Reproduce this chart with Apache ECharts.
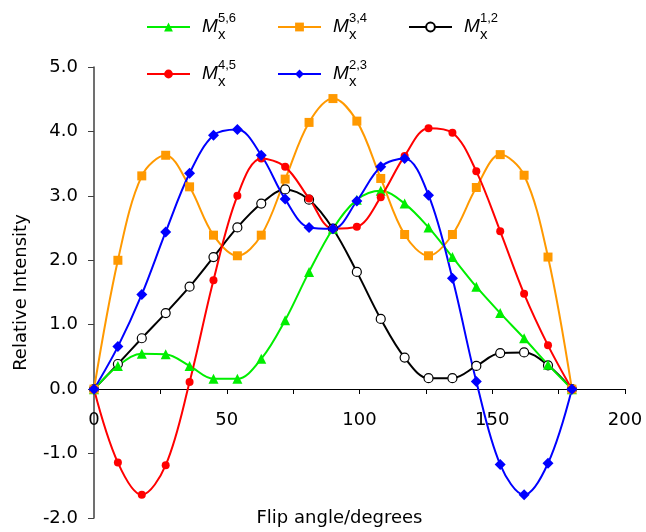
<!DOCTYPE html>
<html>
<head>
<meta charset="utf-8">
<script src="https://cdn.jsdelivr.net/npm/echarts@6/dist/echarts.min.js"></script>
<style>
  html, body { margin: 0; padding: 0; background: #fff; }
  #ch1 { width: 646px; height: 532px; }
</style>
</head>
<body>
<div id="ch1"></div>
<script>
// flip angles (degrees)
var angles = [0, 9, 18, 27, 36, 45, 54, 63, 72, 81, 90, 99, 108, 117, 126, 135, 144, 153, 162, 171, 180];

var m56 = [0, 0.36, 0.55, 0.54, 0.36, 0.16, 0.16, 0.47, 1.07, 1.82, 2.49, 2.94, 3.08, 2.88, 2.51, 2.05, 1.59, 1.18, 0.79, 0.38, 0];
var m34 = [0, 2.0, 3.31, 3.63, 3.14, 2.39, 2.07, 2.39, 3.26, 4.14, 4.51, 4.16, 3.27, 2.40, 2.07, 2.40, 3.13, 3.64, 3.32, 2.05, 0];
var m12 = [0, 0.39, 0.79, 1.18, 1.59, 2.05, 2.51, 2.88, 3.10, 2.94, 2.49, 1.82, 1.09, 0.49, 0.17, 0.17, 0.36, 0.56, 0.57, 0.37, 0];
var m45 = [0, -1.14, -1.64, -1.18, 0.11, 1.69, 3.0, 3.58, 3.45, 2.96, 2.49, 2.52, 2.98, 3.62, 4.05, 3.98, 3.38, 2.45, 1.48, 0.68, 0];
var m23 = [0, 0.66, 1.47, 2.44, 3.35, 3.94, 4.03, 3.63, 2.95, 2.51, 2.49, 2.92, 3.45, 3.58, 3.01, 1.72, 0.12, -1.17, -1.64, -1.15, 0];

var yTicks = [-2, -1, 0, 1, 2, 3, 4, 5];
var xLabels = [0, 50, 100, 150, 200];

var FONT = 'Liberation Sans, Arial, sans-serif';
var AXFONT = 'DejaVu Sans, sans-serif';

function pairs(ys) {
  var out = [];
  for (var i = 0; i < angles.length; i++) out.push([angles[i], ys[i]]);
  return out;
}

function mkLine(name, ys, color, symbol, size, fill) {
  return {
    name: name,
    type: 'line',
    smooth: 0.35,
    symbol: symbol,
    symbolSize: size,
    lineStyle: { color: color, width: 2 },
    itemStyle: {
      color: fill || color,
      borderColor: color,
      borderWidth: fill ? 1.2 : 0
    },
    emphasis: { disabled: true },
    data: pairs(ys)
  };
}

var richLegend = {
  m: { fontSize: 19, fontStyle: 'italic', fontFamily: FONT, color: '#000', width: 16, padding: [0, 0, 0, 7], lineHeight: 30 },
  x: { fontSize: 15, fontFamily: FONT, color: '#000', width: 0, lineHeight: 12, verticalAlign: 'bottom' },
  s: { fontSize: 13, fontFamily: FONT, color: '#000', width: 36, lineHeight: 26, verticalAlign: 'top' }
};

function legendFmt(name) {
  return '{m|M}{x|x}{s|' + name.slice(2) + '}';
}

function mkLegend(names, top) {
  return {
    data: names,
    left: 146,
    top: top,
    padding: 0,
    itemWidth: 43,
    itemHeight: 11,
    itemGap: 23,
    selectedMode: false,
    formatter: legendFmt,
    textStyle: { rich: richLegend }
  };
}

var ch1 = echarts.init(document.getElementById('ch1'));

var op1 = {
  animation: false,
  legend: [
    mkLegend(['Mx5,6', 'Mx3,4', 'Mx1,2'], 12),
    mkLegend(['Mx4,5', 'Mx2,3'], 59)
  ],
  grid: {
    left: 94,
    right: 21,
    top: 67,
    bottom: 14,
    containLabel: false,
    outerBoundsMode: 'none'
  },
  xAxis: {
    type: 'value',
    min: 0,
    max: 200,
    interval: 25,
    offset: -129, // sit on the zero line
    name: 'Flip angle/degrees',
    nameLocation: 'middle',
    nameGap: 120,
    nameTextStyle: { fontSize: 18, fontFamily: AXFONT, color: '#000', padding: [0, 40, 0, 0] },
    axisLine: { onZero: false, lineStyle: { color: '#000', width: 1 } },
    axisTick: { length: 5, lineStyle: { color: '#000' } },
    axisLabel: {
      fontSize: 18,
      fontFamily: AXFONT,
      color: '#000',
      margin: 22,
      formatter: function(v) {
        return xLabels.indexOf(v) >= 0 ? String(v) : '';
      }
    },
    splitLine: { show: false }
  },
  yAxis: {
    type: 'value',
    min: yTicks[0],
    max: yTicks[yTicks.length - 1],
    interval: 1,
    name: 'Relative Intensity',
    nameLocation: 'middle',
    nameGap: 64,
    nameTextStyle: { fontSize: 18, fontFamily: AXFONT, color: '#000' },
    axisLine: { show: true, lineStyle: { color: '#404040', width: 1.5 } },
    axisTick: { show: true, length: 6, lineStyle: { color: '#404040' } },
    axisLabel: {
      fontSize: 18,
      fontFamily: AXFONT,
      color: '#000',
      margin: 16,
      formatter: function(v) { return v.toFixed(1); }
    },
    splitLine: { show: false }
  },
  series: [
    mkLine('Mx1,2', m12, '#000000', 'circle', 9, '#ffffff'),
    mkLine('Mx5,6', m56, '#00ee00', 'triangle', 10),
    mkLine('Mx3,4', m34, '#ff9900', 'rect', 9),
    mkLine('Mx4,5', m45, '#ff0000', 'circle', 8),
    mkLine('Mx2,3', m23, '#0000ff', 'diamond', 11)
  ]
};

ch1.setOption(op1);
</script>
</body>
</html>
